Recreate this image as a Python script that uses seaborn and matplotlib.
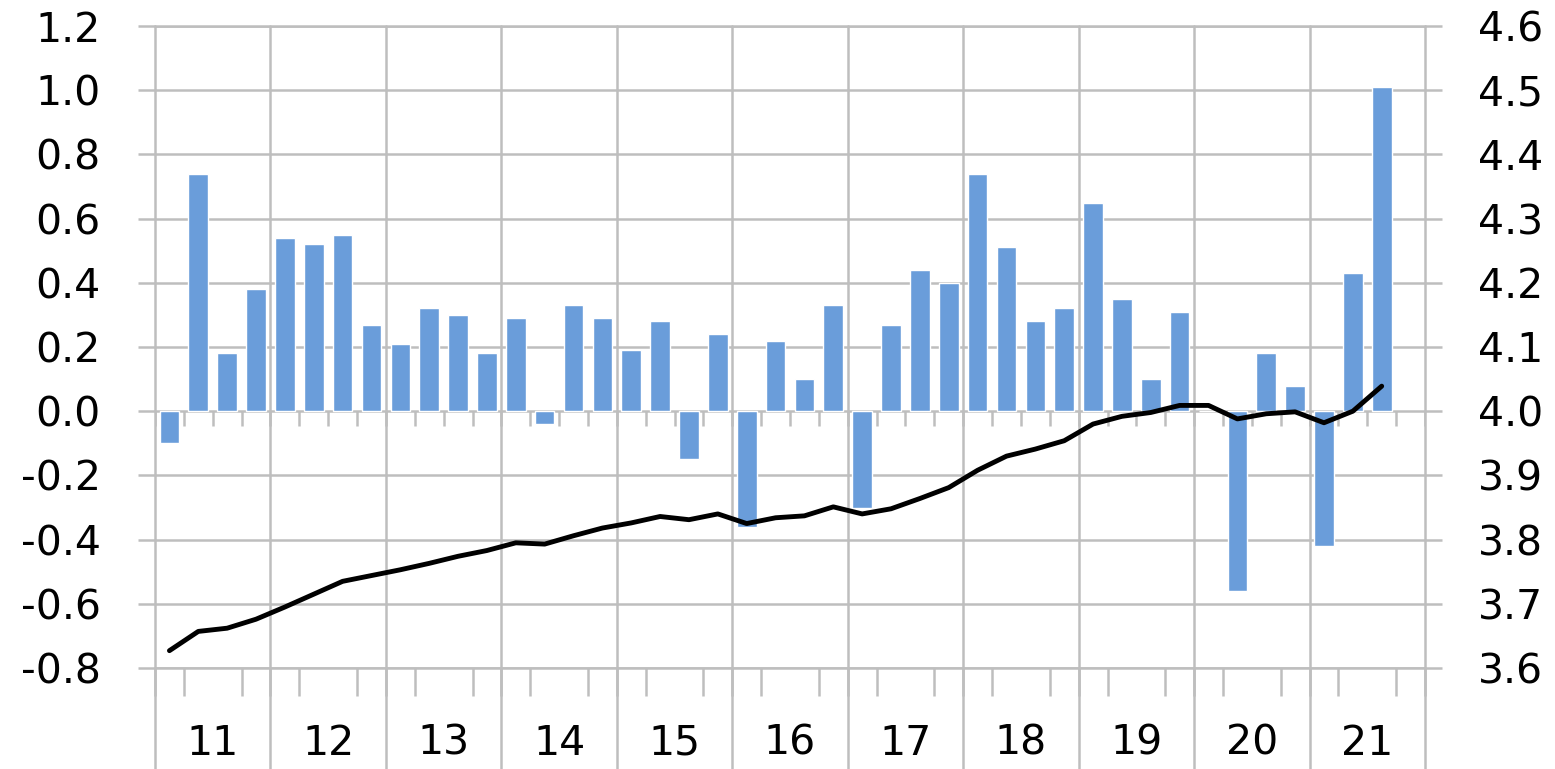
import numpy as np
import pandas as pd
import matplotlib
matplotlib.use("Agg")
import matplotlib.pyplot as plt
import seaborn as sns

# Data (quarterly, 2011Q1 - 2021Q3)
years = [str(y) for y in range(11, 22)]
quarters = [f"20{y}Q{q}" for y in years for q in range(1, 5)]  # 44 slots, last one empty

bar_values = [
    -0.10, 0.74, 0.18, 0.38,
    0.54, 0.52, 0.55, 0.27,
    0.21, 0.32, 0.30, 0.18,
    0.29, -0.04, 0.33, 0.29,
    0.19, 0.28, -0.15, 0.24,
    -0.36, 0.22, 0.10, 0.33,
    -0.30, 0.27, 0.44, 0.40,
    0.74, 0.51, 0.28, 0.32,
    0.65, 0.35, 0.10, 0.31,
    0.00, -0.56, 0.18, 0.08,
    -0.42, 0.43, 1.01,
]
line_values = [
    3.627, 3.657, 3.662, 3.676,
    3.695, 3.715, 3.735, 3.744,
    3.753, 3.763, 3.774, 3.783,
    3.795, 3.793, 3.806, 3.818,
    3.826, 3.836, 3.831, 3.840,
    3.825, 3.834, 3.837, 3.851,
    3.840, 3.848, 3.864, 3.881,
    3.908, 3.930, 3.941, 3.954,
    3.980, 3.992, 3.998, 4.009,
    4.009, 3.988, 3.996, 3.999,
    3.982, 4.000, 4.039,
]
left_ticks = [-0.8, -0.6, -0.4, -0.2, 0.0, 0.2, 0.4, 0.6, 0.8, 1.0, 1.2]
right_ticks = [3.6, 3.7, 3.8, 3.9, 4.0, 4.1, 4.2, 4.3, 4.4, 4.5, 4.6]

BAR_COLOR = "#6A9DDA"
GRID = "#BEBEBE"
GLW = 1.8
FS = 29.5

sns.set_style("white")
plt.rcParams["font.family"] = ["DejaVu Sans"]

df = pd.DataFrame({"quarter": quarters[:len(bar_values)], "value": bar_values})
n = len(quarters)
pos = np.arange(len(line_values))

fig = plt.figure(figsize=(15.55, 7.69), dpi=100)
ax = fig.add_axes([155 / 1555, 1 - 668 / 769, 1270 / 1555, 642 / 769])

sns.barplot(data=df, x="quarter", y="value", order=quarters, color=BAR_COLOR,
            width=0.68, saturation=1, ax=ax, zorder=2)

ax.set_xlim(-0.5, n - 0.5)
ax.set_ylim(-0.8, 1.2)
ax.set_axisbelow(True)
for s in ax.spines.values():
    s.set_visible(False)

# horizontal gridlines + outward ticks
ax.set_yticks(left_ticks)
ax.set_yticklabels([f"{v:.1f}" for v in left_ticks])
ax.grid(axis="y", color=GRID, lw=GLW)
ax.grid(axis="x", visible=False)
for v in (left_ticks[0], left_ticks[-1]):
    ax.axhline(v, color=GRID, lw=GLW, clip_on=False, zorder=0.5)
ax.tick_params(axis="y", which="major", direction="out", length=12.2, width=GLW,
               color=GRID, labelcolor="black", labelsize=FS, pad=27, left=True, right=False)

# year boundaries (extend below the plot) and quarter ticks
boundaries = np.arange(-0.5, n, 1.0)
year_lines = boundaries[::4]
for b in year_lines:
    ax.axvline(b, ymin=-0.157, ymax=1, clip_on=False, color=GRID, lw=GLW, zorder=0.5)
ax.vlines(boundaries, -0.047, 0, color=GRID, lw=GLW, zorder=0.5)

ax.set_xticks(year_lines[:-1] + 2)
ax.set_xticklabels(years)
ax.set_xticks(boundaries, minor=True)
ax.tick_params(axis="x", which="major", length=0, labelsize=FS, labelcolor="black",
               pad=40, bottom=True)
ax.tick_params(axis="x", which="minor", direction="out", length=20, width=GLW,
               color=GRID, bottom=True)
ax.set_xlabel("")
ax.set_ylabel("")

# right axis line
ax2 = ax.twinx()
sns.lineplot(x=pos, y=line_values, color="black", lw=3.5, ax=ax2)
ax2.set_xlim(-0.5, n - 0.5)
ax2.set_ylim(3.6, 4.6)
ax2.set_yticks(right_ticks)
ax2.set_yticklabels([f"{v:.1f}" for v in right_ticks])
ax2.grid(False)
for s in ax2.spines.values():
    s.set_visible(False)
ax2.tick_params(axis="y", direction="out", length=12.2, width=GLW, color=GRID,
                labelcolor="black", labelsize=FS, pad=26, right=True, left=False)
ax2.set_ylabel("")

fig.savefig("out.png", dpi=100)
